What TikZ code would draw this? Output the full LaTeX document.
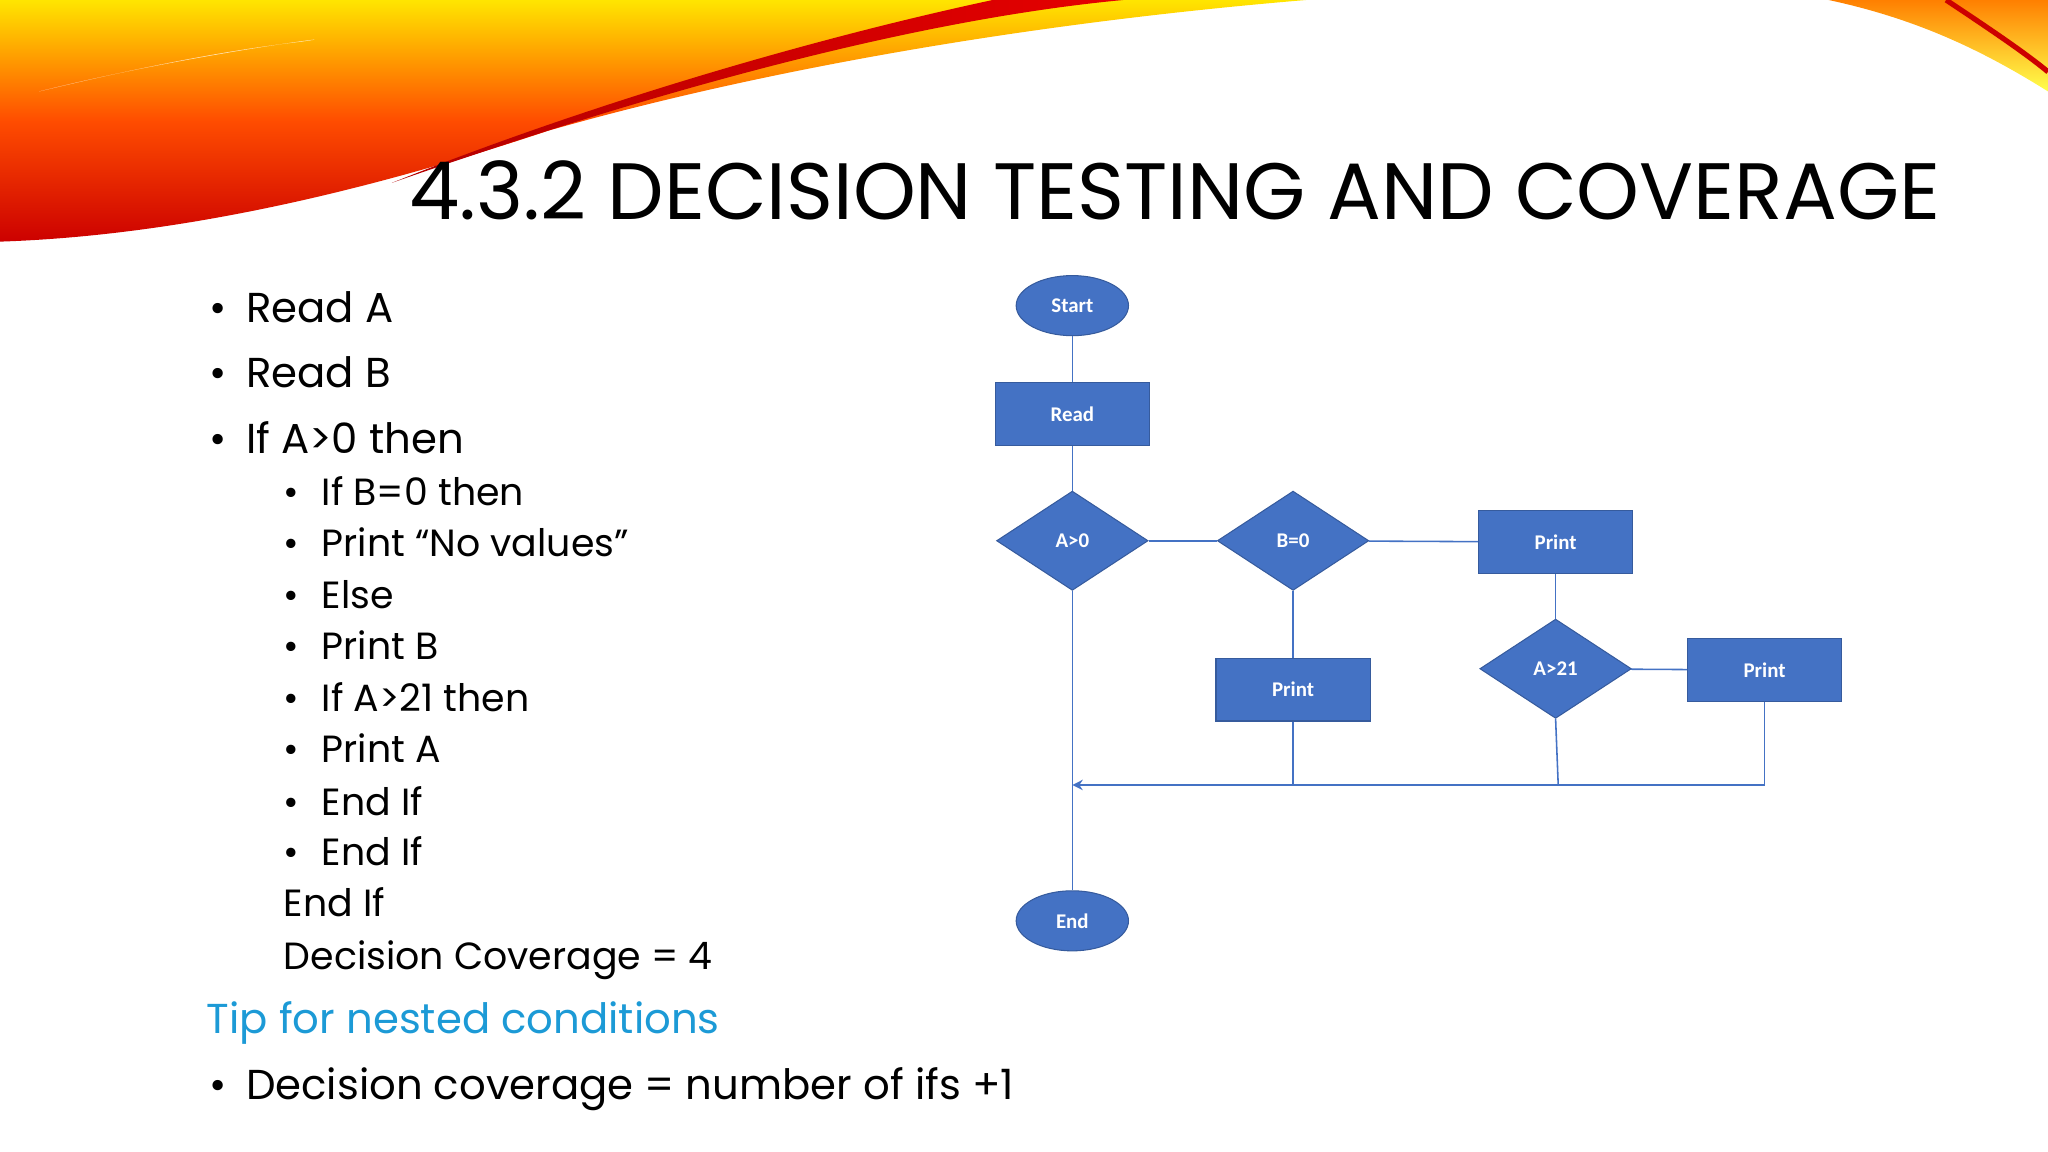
\documentclass[tikz,border=0pt]{standalone}
\usepackage{fontspec}
\setmainfont{Poppins}
\newfontfamily\boxfont{Carlito}
\usetikzlibrary{shapes.geometric,arrows.meta}
\definecolor{fblue}{HTML}{4472C4}
\definecolor{tipblue}{HTML}{1C9AD6}
\tikzset{
  box/.style={draw=fblue!80!black,fill=fblue,text=white,font=\boxfont\fontsize{8}{9}\selectfont\bfseries,minimum width=59pt,minimum height=24pt,inner sep=0pt},
  dia/.style={diamond,draw=fblue!80!black,fill=fblue,text=white,font=\boxfont\fontsize{8}{9}\selectfont\bfseries,minimum width=58pt,minimum height=38pt,inner sep=0pt},
  ell/.style={ellipse,draw=fblue!80!black,fill=fblue,text=white,font=\boxfont\fontsize{8}{9}\selectfont\bfseries,minimum width=43pt,minimum height=23pt,inner sep=0pt},
  conn/.style={draw=fblue,line width=0.6pt},
  main/.style={anchor=base west,font=\fontsize{16}{18}\selectfont,inner sep=0pt},
  sub/.style={anchor=base west,font=\fontsize{14.5}{16}\selectfont,inner sep=0pt}
}
\begin{document}
\begin{tikzpicture}[x=0.5pt,y=-0.5pt]
\useasboundingbox (0,0) rectangle (1568,882);
% swoosh
\shade[top color=yellow!80!orange,bottom color=red!80!black,middle color=orange!60!red]
  (0,0) -- (1000,0) .. controls (760,20) and (560,60) .. (420,100)
  .. controls (300,140) and (150,180) .. (0,185) -- cycle;
\fill[white,opacity=0.8] (30,70) .. controls (150,40) and (280,25) .. (230,32)
  .. controls (160,40) and (80,58) .. (30,70) -- cycle;
\shade[left color=red!70!black,right color=red!90!black] (300,140) .. controls (500,70) and (700,15) .. (860,0) -- (760,0) .. controls (620,30) and (450,80) .. (300,140) -- cycle;
\shade[top color=orange,bottom color=yellow!70] (1400,0) -- (1568,0) -- (1568,70) .. controls (1520,40) and (1470,15) .. (1400,0) -- cycle;
\draw[red!80!black,line width=2pt] (1490,0) .. controls (1520,20) and (1550,40) .. (1568,55);
% title
\node[anchor=base west,inner sep=0pt,font=\fontsize{30.6}{34}\selectfont] (title) at (313,168) {4.3.2 DECISION TESTING AND COVERAGE};
% left text
\foreach \y/\t [count=\i] in {236/Read A,286/Read B,336/If A>0 then} {
  \node[main] (m\i) at (188,\y+11) {\t};
  \node[main] (mb\i) at (160,\y+11) {•};
}
\foreach \y/\t [count=\i] in {377/If B=0 then,416/Print “No values”,456/Else,495/Print B,535/If A>21 then,574/Print A,614/End If,653/End If} {
  \node[sub] (s\i) at (246,\y+10) {\t};
  \node[sub] (sb\i) at (217,\y+10) {•};
}
\node[sub] (e1) at (217,702) {End If};
\node[sub] (e2) at (217,742) {Decision Coverage = 4};
\node[main,text=tipblue] (tip) at (158,791) {Tip for nested conditions};
\node[main] (lb) at (160,842) {•};
\node[main] (last) at (188,842) {Decision coverage = number of ifs +1};
% flowchart
\node[ell] (start) at (821,234) {Start};
\node[box] (read) at (821,317) {Read};
\node[dia] (a0) at (821,414) {A>0};
\node[dia] (b0) at (990,414) {B=0};
\node[box] (p1) at (1191,415) {Print};
\node[box] (p2) at (990,528) {Print};
\node[dia] (a21) at (1191,512) {A>21};
\node[box] (p3) at (1351,513) {Print};
\node[ell] (end) at (821,705) {End};
\coordinate (j) at (821,601);
\coordinate (j2) at (990,601);
\coordinate (j3) at (1193,601);
\coordinate (j4) at (1351,601);
\draw[conn] (start) -- (read);
\draw[conn] (read) -- (a0);
\draw[conn] (a0) -- (b0);
\draw[conn] (b0) -- (p1);
\draw[conn] (p1) -- (a21);
\draw[conn] (a21) -- (p3);
\draw[conn] (b0) -- (p2);
\draw[conn] (a0) -- (end);
\draw[conn] (p2) -- (j2);
\draw[conn] (a21.south) -- (j3);
\draw[conn] (p3) -- (j4);
\draw[conn,-{Stealth[length=4pt,width=4pt]}] (j4) -- (j);
\end{tikzpicture}
\end{document}
